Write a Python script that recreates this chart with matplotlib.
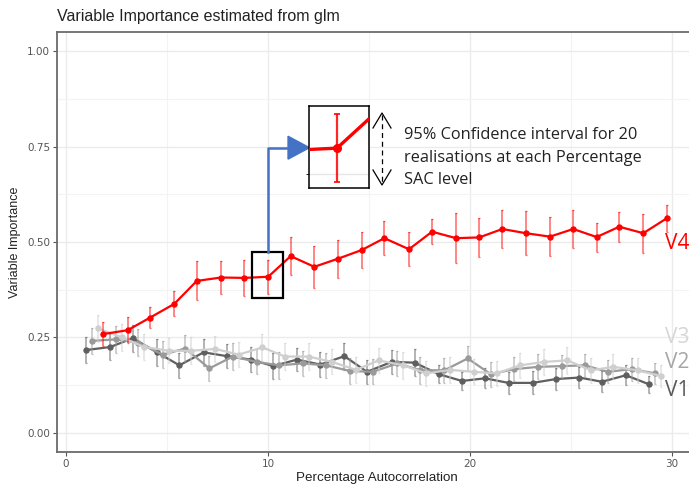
import matplotlib
matplotlib.use("Agg")
import matplotlib.pyplot as plt
from matplotlib.patches import Rectangle, Polygon
from matplotlib.lines import Line2D
import numpy as np

# Percentage SAC levels (centre of each dodged group)
sac_levels = [1.42, 2.62, 3.73, 4.93, 6.04, 7.24, 8.40, 9.58, 10.69, 11.86,
              13.02, 14.21, 15.33, 16.55, 17.69, 18.88, 20.03, 21.17, 22.34,
              23.53, 24.68, 25.84, 26.96, 28.15, 29.31]

v1_mean = [0.217, 0.225, 0.248, 0.211, 0.177, 0.211, 0.201, 0.192, 0.175, 0.192,
           0.179, 0.201, 0.160, 0.186, 0.184, 0.154, 0.136, 0.143, 0.131, 0.131,
           0.141, 0.145, 0.134, 0.151, 0.127]
v1_ci = [0.034, 0.033, 0.035, 0.035, 0.033, 0.035, 0.032, 0.033, 0.033, 0.030,
         0.032, 0.035, 0.032, 0.031, 0.036, 0.024, 0.024, 0.026, 0.028, 0.030,
         0.028, 0.028, 0.028, 0.026, 0.022]

v2_mean = [0.241, 0.245, 0.236, 0.205, 0.221, 0.169, 0.200, 0.186, 0.177, 0.182,
           0.177, 0.162, 0.160, 0.182, 0.164, 0.164, 0.195, 0.154, 0.167, 0.173,
           0.175, 0.177, 0.160, 0.167, 0.156]
v2_ci = [0.035, 0.035, 0.035, 0.035, 0.035, 0.033, 0.035, 0.033, 0.035, 0.033,
         0.032, 0.035, 0.033, 0.033, 0.035, 0.032, 0.033, 0.033, 0.032, 0.033,
         0.030, 0.030, 0.030, 0.030, 0.028]

v3_mean = [0.274, 0.250, 0.225, 0.215, 0.215, 0.220, 0.205, 0.224, 0.200, 0.200,
           0.186, 0.165, 0.190, 0.177, 0.156, 0.165, 0.160, 0.156, 0.177, 0.186,
           0.190, 0.164, 0.173, 0.164, 0.149]
v3_ci = [0.035, 0.035, 0.035, 0.033, 0.035, 0.035, 0.033, 0.035, 0.035, 0.035,
         0.033, 0.033, 0.033, 0.035, 0.033, 0.033, 0.033, 0.033, 0.033, 0.035,
         0.035, 0.033, 0.033, 0.033, 0.028]

v4_mean = [0.259, 0.269, 0.302, 0.338, 0.398, 0.407, 0.406, 0.409, 0.463, 0.435,
           0.456, 0.479, 0.510, 0.481, 0.527, 0.510, 0.512, 0.534, 0.523, 0.514,
           0.534, 0.513, 0.540, 0.523, 0.562]
v4_ci = [0.031, 0.034, 0.028, 0.033, 0.051, 0.042, 0.048, 0.045, 0.050, 0.055,
         0.050, 0.047, 0.044, 0.045, 0.033, 0.066, 0.052, 0.051, 0.057, 0.051,
         0.049, 0.038, 0.039, 0.051, 0.035]

variables = ["V1", "V2", "V3", "V4"]
means = [v1_mean, v2_mean, v3_mean, v4_mean]
cis = [v1_ci, v2_ci, v3_ci, v4_ci]
colors = ["#5f5f5f", "#9a9a9a", "#cfcfcf", "#ff0000"]
label_colors = ["#5a5a5a", "#a6a6a6", "#d6d6d6", "#ff0000"]
label_y = [0.11, 0.185, 0.25, 0.497]
dodge = [-0.43, -0.145, 0.145, 0.43]

W, H = 689, 486
fig = plt.figure(figsize=(W / 100, H / 100), dpi=100)


def fx(px):
    return px / W


def fy(py):
    return 1 - py / H


ax = fig.add_axes([fx(57), fy(452), (697 - 57) / W, (452 - 32) / H])
xlim = (-0.45, 31.24)
ylim = (-0.05, 1.05)


def style_panel(a):
    a.set_facecolor("white")
    a.set_xticks([0, 10, 20, 30])
    a.set_xticks([5, 15, 25], minor=True)
    a.set_yticks([0, 0.25, 0.5, 0.75, 1.0])
    a.set_yticks([0.125, 0.375, 0.625, 0.875], minor=True)
    a.grid(True, which="major", color="#ebebeb", lw=1.0, zorder=0)
    a.grid(True, which="minor", color="#f3f3f3", lw=0.8, zorder=0)
    a.set_axisbelow(True)


style_panel(ax)
ax.set_xlim(*xlim)
ax.set_ylim(*ylim)
ax.set_yticklabels(["0.00", "0.25", "0.50", "0.75", "1.00"])
ax.tick_params(axis="both", which="major", length=3, width=0.8, color="#555555",
               labelsize=7.5, labelcolor="#555555", pad=2)
ax.tick_params(axis="both", which="minor", length=0)
for s in ["left", "bottom", "top"]:
    ax.spines[s].set_color("#6b6b6b")
    ax.spines[s].set_linewidth(1.3)
ax.spines["right"].set_visible(False)

ax.set_xlabel("Percentage Autocorrelation", fontsize=9.6, color="#222222",
              labelpad=2, family="Liberation Sans")
ax.set_ylabel("Variable Importance", fontsize=9.0, color="#222222",
              labelpad=4, family="Liberation Sans")
fig.text(fx(57), fy(17), "Variable Importance estimated from glm",
         fontsize=11.5, family="Liberation Sans", color="#222222",
         ha="left", va="center")

for i, (m, c, col) in enumerate(zip(means, cis, colors)):
    xs = np.array(sac_levels) + dodge[i]
    ax.errorbar(xs, m, yerr=c, fmt="none", ecolor=col, alpha=0.6,
                elinewidth=1.1, capsize=0.8, capthick=0.9, zorder=3 + i)
    ax.plot(xs, m, "-o", color=col, lw=1.6, ms=3.6, zorder=3 + i)
    ax.text(29.65, label_y[i], variables[i], color=label_colors[i],
            fontsize=15, family="Open Sans", ha="left", va="center",
            clip_on=False, zorder=10)

# highlight box around one red point
k = 7
px_red = sac_levels[k] + dodge[3]
box_left, box_right = px_red - 0.79, px_red + 0.74
box_bottom, box_top = v4_mean[k] - 0.056, v4_mean[k] + 0.065
ax.add_patch(Rectangle((box_left, box_bottom), box_right - box_left,
                       box_top - box_bottom, fill=False, ec="black", lw=1.6,
                       zorder=12))

# blue elbow connector with arrow head
y_conn = 0.747
ax.add_line(Line2D([px_red, px_red, 10.99], [box_top, y_conn, y_conn],
                   color="#4472c4", lw=1.8, zorder=12, clip_on=False))
ax.add_patch(Polygon([[10.99, y_conn + 0.03], [12.05, y_conn],
                      [10.99, y_conn - 0.03]], closed=True, color="#4472c4",
                     zorder=12, clip_on=False))

# magnified inset of the highlighted point
inset = fig.add_axes([fx(309), fy(188), 60 / W, 82 / H])
style_panel(inset)
inset.set_xticks([])
inset.set_yticks([0.375], minor=True)
inset.set_yticks([])
inset.grid(True, which="minor", axis="y", color="#e6e6e6", lw=1.0)
inset.set_xlim(px_red - 0.7, px_red + 0.8)
inset.set_ylim(v4_mean[k] - 0.053, v4_mean[k] + 0.056)
xs4 = np.array(sac_levels) + dodge[3]
inset.errorbar(xs4, v4_mean, yerr=v4_ci, fmt="none",
               ecolor="#ff0000", elinewidth=1.6, capsize=2, capthick=1.4,
               alpha=0.85, zorder=3)
inset.plot(xs4, v4_mean, "-o", color="#ff0000", lw=2.4, ms=5.5, zorder=4)
for s in inset.spines.values():
    s.set_color("black")
    s.set_linewidth(1.1)

# dashed double-headed arrow beside the inset (open chevron heads)
arrow_x, arrow_top, arrow_bot = 382, 113, 185
fig.add_artist(Line2D([fx(arrow_x), fx(arrow_x)], [fy(arrow_top + 2), fy(arrow_bot - 2)],
                      transform=fig.transFigure, color="black", lw=0.9,
                      linestyle=(0, (4, 3))))
fig.add_artist(Line2D([fx(arrow_x - 9), fx(arrow_x), fx(arrow_x + 9)],
                      [fy(arrow_top + 15), fy(arrow_top), fy(arrow_top + 15)],
                      transform=fig.transFigure, color="black", lw=0.9))
fig.add_artist(Line2D([fx(arrow_x - 9), fx(arrow_x), fx(arrow_x + 9)],
                      [fy(arrow_bot - 15), fy(arrow_bot), fy(arrow_bot - 15)],
                      transform=fig.transFigure, color="black", lw=0.9))

fig.text(fx(404), fy(127),
         "95% Confidence interval for 20\nrealisations at each Percentage\nSAC level",
         fontsize=11.8, family="Open Sans", color="#222222", ha="left",
         va="top", linespacing=1.55)

fig.savefig("out.png", dpi=100)
